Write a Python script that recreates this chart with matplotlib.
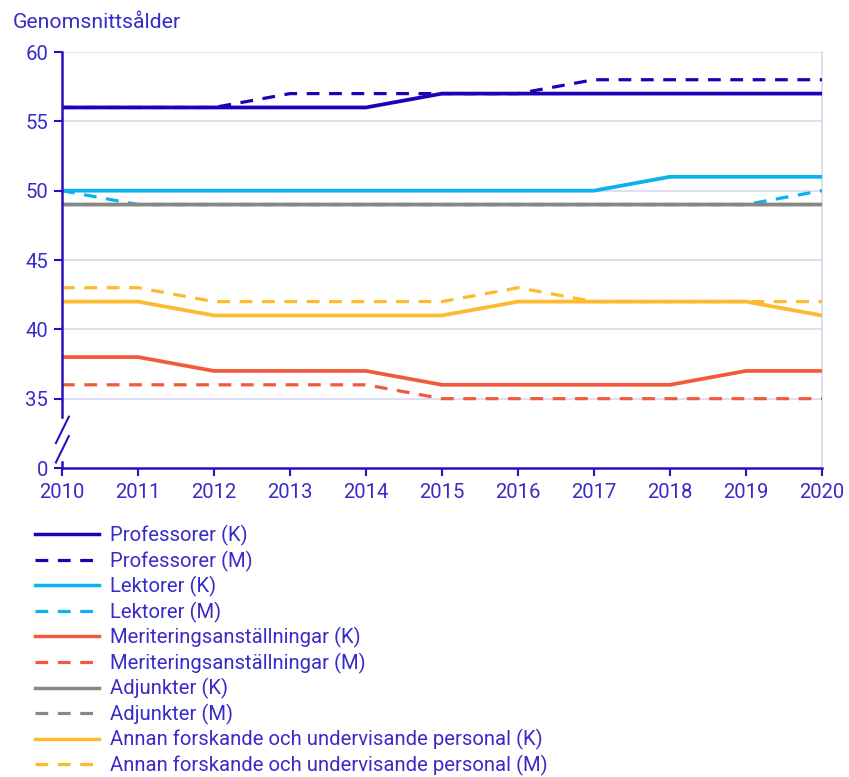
import matplotlib
matplotlib.use("Agg")
import matplotlib.pyplot as plt
from matplotlib.lines import Line2D

years = [2010, 2011, 2012, 2013, 2014, 2015, 2016, 2017, 2018, 2019, 2020]
prof_k = [56, 56, 56, 56, 56, 57, 57, 57, 57, 57, 57]
prof_m = [56, 56, 56, 57, 57, 57, 57, 58, 58, 58, 58]
lekt_k = [50, 50, 50, 50, 50, 50, 50, 50, 51, 51, 51]
lekt_m = [50, 49, 49, 49, 49, 49, 49, 49, 49, 49, 50]
mer_k = [38, 38, 37, 37, 37, 36, 36, 36, 36, 37, 37]
mer_m = [36, 36, 36, 36, 36, 35, 35, 35, 35, 35, 35]
adj_k = [49, 49, 49, 49, 49, 49, 49, 49, 49, 49, 49]
adj_m = [49, 49, 49, 49, 49, 49, 49, 49, 49, 49, 49]
ann_k = [42, 42, 41, 41, 41, 41, 42, 42, 42, 42, 41]
ann_m = [43, 43, 42, 42, 42, 42, 43, 42, 42, 42, 42]

y_ticks = [30, 35, 40, 45, 50, 55, 60]
y_ticklabels = ["0", "35", "40", "45", "50", "55", "60"]

series = [
    ("Professorer (K)", prof_k, "#1E00B8", "-"),
    ("Professorer (M)", prof_m, "#1E00B8", "--"),
    ("Lektorer (K)", lekt_k, "#0AB2EE", "-"),
    ("Lektorer (M)", lekt_m, "#0AB2EE", "--"),
    ("Meriteringsanställningar (K)", mer_k, "#F25A3C", "-"),
    ("Meriteringsanställningar (M)", mer_m, "#F25A3C", "--"),
    ("Adjunkter (K)", adj_k, "#878783", "-"),
    ("Adjunkter (M)", adj_m, "#878783", "--"),
    ("Annan forskande och undervisande personal (K)", ann_k, "#FFB92D", "-"),
    ("Annan forskande och undervisande personal (M)", ann_m, "#FFB92D", "--"),
]

txt = "#3A2BC8"
axc = "#2A10C0"
grid = "#D9D9F2"
fs = 14.6

plt.rcParams['font.family'] = ['Roboto', 'DejaVu Sans']

fig = plt.figure(figsize=(8.49, 7.77), dpi=100)
ax = fig.add_axes([62/849, 1-468/777, (822-62)/849, (468-52)/777])

# dashed series first, then solid series on top
order = [1, 3, 5, 9, 7, 0, 2, 4, 8, 6]
for i in order:
    lab, vals, col, ls = series[i]
    dashed = ls == "--"
    ax.plot(years, vals, color=col, linestyle=ls, lw=2.3 if dashed else 2.7,
            dashes=(4, 3) if dashed else (None, None), label=lab,
            solid_capstyle='butt', snap=False,
            zorder=(3 if dashed else 4) + (0.5 if i == 6 else 0))

ax.set_xlim(2010, 2020)
ax.set_ylim(30, 60)
ax.set_yticks(y_ticks)
ax.set_yticklabels(y_ticklabels)
ax.set_xticks(years)
ax.set_xticklabels([str(y) for y in years])

for yv in y_ticks[1:]:
    ax.axhline(yv, color=grid, lw=1.2, zorder=0)

ax.spines['top'].set_visible(False)
ax.spines['right'].set_color(grid)
ax.spines['right'].set_linewidth(1.2)
ax.spines['left'].set_visible(False)
ax.spines['bottom'].set_color(axc)
ax.spines['bottom'].set_linewidth(1.8)

ax.tick_params(axis='both', colors=axc, labelcolor=txt, labelsize=fs,
               width=1.5, length=6, direction='out')
ax.tick_params(axis='x', pad=5)
ax.tick_params(axis='y', pad=4)

# left axis with break
ax.plot([2010, 2010], [60, 33.7], color=axc, lw=1.8, clip_on=False, zorder=5)
ax.plot([2010, 2010], [30.4, 30], color=axc, lw=1.8, clip_on=False, zorder=5)
trans = ax.get_yaxis_transform()
for y0 in [33.7, 32.3]:
    ax.plot([0.009, -0.008], [y0, y0 - 1.9], color=axc, lw=1.5,
            clip_on=False, transform=trans, zorder=5)

fig.text(13/849, 1-22/777, "Genomsnittsålder", color=txt, fontsize=15.3,
         ha='left', va='center')

leg_handles = [Line2D([0], [0], color=c, linestyle=ls,
                      lw=2.3 if ls == "--" else 2.5,
                      dashes=(4, 3) if ls == "--" else (None, None))
               for (_, _, c, ls) in series]
leg = fig.legend(leg_handles, [s[0] for s in series], loc='upper left',
                 bbox_to_anchor=(35/849, 1-525/777), frameon=False,
                 fontsize=fs, handlelength=3.15, handletextpad=0.55,
                 labelspacing=0.22, borderaxespad=0, borderpad=0)
for t in leg.get_texts():
    t.set_color(txt)

fig.savefig("out.png", dpi=100)
